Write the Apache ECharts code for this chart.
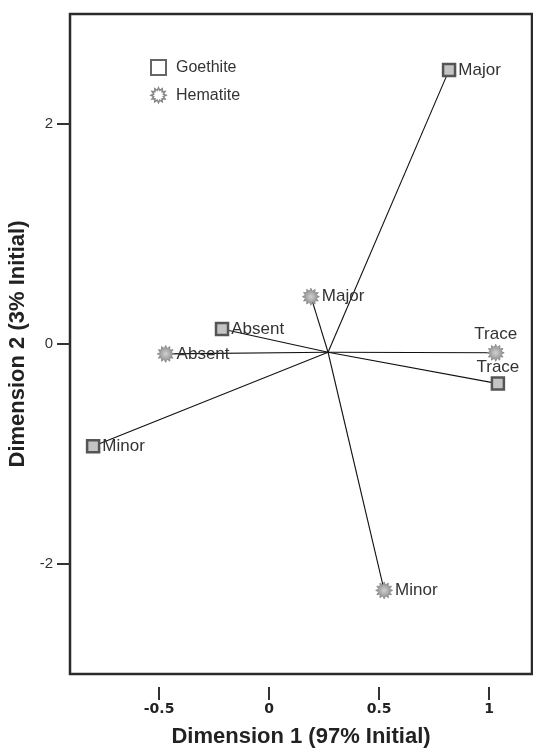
<!DOCTYPE html>
<html>
<head>
<meta charset="utf-8">
<script src="https://cdn.jsdelivr.net/npm/echarts@6/dist/echarts.min.js"></script>
<style>
html,body{margin:0;padding:0;background:#fff;overflow:hidden;}
#chart{width:533px;height:749px;}
</style>
</head>
<body>
<div id="chart"></div>
<script>
// ---- data ----
const categories = ['Major', 'Absent', 'Trace', 'Minor'];
const goethiteDim1 = [0.818, -0.214, 1.04, -0.80];
const goethiteDim2 = [2.49, 0.136, -0.36, -0.93];
const hematiteDim1 = [0.19, -0.47, 1.03, 0.523];
const hematiteDim2 = [0.43, -0.09, -0.08, -2.24];
const centroid = [0.268, -0.075];
const xTicks = [-0.5, 0, 0.5, 1];
const yTicks = [-2, 0, 2];

// gear/star symbol
function starPath(n, rIn) {
  let d = '';
  for (let i = 0; i < n * 2; i++) {
    const a = i * Math.PI / n - Math.PI / 2;
    const r = i % 2 === 0 ? 1 : rIn;
    d += (i === 0 ? 'M' : 'L') + (50 + 50 * r * Math.cos(a)).toFixed(2) + ' ' + (50 + 50 * r * Math.sin(a)).toFixed(2) + ' ';
  }
  return 'path://' + d + 'Z';
}
const STAR = starPath(12, 0.66);

function mkData(xs, ys) {
  return categories.map((c, i) => ({
    name: c,
    value: [xs[i], ys[i]],
    label: c === 'Trace' ? { position: 'top', distance: 1 } : { position: 'right', distance: 2 }
  }));
}
const lineData = [];
categories.forEach((c, i) => {
  lineData.push({ coords: [centroid, [goethiteDim1[i], goethiteDim2[i]]] });
  lineData.push({ coords: [centroid, [hematiteDim1[i], hematiteDim2[i]]] });
});

const labelStyle = {
  show: true,
  formatter: p => p.name,
  fontFamily: 'Liberation Sans, Arial, sans-serif',
  fontSize: 17,
  color: '#333'
};

const chart = echarts.init(document.getElementById('chart'));
chart.setOption({
  animation: false,
  backgroundColor: '#fff',
  grid: {
    left: 70, right: 1, top: 14, bottom: 75,
    outerBoundsMode: 'none', containLabel: false,
    show: true, borderColor: '#2b2b2b', borderWidth: 2.5
  },
  legend: {
    orient: 'vertical', left: 145, top: 54,
    itemWidth: 15, itemHeight: 15, itemGap: 11,
    textStyle: { fontFamily: 'Liberation Sans, Arial, sans-serif', fontSize: 16, color: '#333', padding: [0, 0, 0, 5] },
    data: [
      { name: 'Goethite', icon: 'rect', itemStyle: { color: '#fff', borderColor: '#666', borderWidth: 2 } },
      { name: 'Hematite', icon: STAR, itemStyle: { color: '#fff', borderColor: '#888', borderWidth: 1.5 } }
    ]
  },
  xAxis: {
    type: 'value', min: -0.905, max: 1.195, position: 'bottom', offset: 13,
    axisLine: { show: false, onZero: false },
    splitLine: { show: false },
    axisTick: { show: true, length: 13, customValues: xTicks, lineStyle: { color: '#333', width: 2 } },
    axisLabel: {
      customValues: xTicks, margin: 15, formatter: v => String(v),
      fontFamily: 'DejaVu Sans, sans-serif', fontWeight: 'bold', fontSize: 14, color: '#222'
    },
    name: 'Dimension 1 (97% Initial)', nameLocation: 'middle', nameGap: 39,
    nameTextStyle: { fontFamily: 'Liberation Sans, Arial, sans-serif', fontWeight: 'bold', fontSize: 22, color: '#222' }
  },
  yAxis: {
    type: 'value', min: -3, max: 3,
    axisLine: { show: false, onZero: false },
    splitLine: { show: false },
    axisTick: { show: true, length: 13, customValues: yTicks, lineStyle: { color: '#333', width: 2 } },
    axisLabel: {
      customValues: yTicks, margin: 17,
      fontFamily: 'Liberation Sans, Arial, sans-serif', fontSize: 15, color: '#333'
    },
    name: 'Dimension 2 (3% Initial)', nameLocation: 'middle', nameGap: 35, nameRotate: 90,
    nameTextStyle: { fontFamily: 'Liberation Sans, Arial, sans-serif', fontWeight: 'bold', fontSize: 22, color: '#222' }
  },
  series: [
    {
      type: 'lines', coordinateSystem: 'cartesian2d', silent: true, z: 1,
      lineStyle: { color: '#111', width: 1.1, opacity: 1 },
      data: lineData
    },
    {
      name: 'Goethite', type: 'scatter', symbol: 'rect', symbolSize: 12, z: 3,
      itemStyle: { color: '#c4c4c4', borderColor: '#555', borderWidth: 2.5, opacity: 1 },
      label: labelStyle,
      data: mkData(goethiteDim1, goethiteDim2)
    },
    {
      name: 'Hematite', type: 'scatter', symbol: STAR, symbolSize: 17, z: 3,
      itemStyle: {
        color: { type: 'radial', x: 0.5, y: 0.5, r: 0.5, colorStops: [{ offset: 0, color: '#d0d0d0' }, { offset: 0.5, color: '#aaa' }, { offset: 1, color: '#888' }] },
        borderColor: '#888', borderWidth: 0.8, opacity: 1
      },
      label: labelStyle,
      data: mkData(hematiteDim1, hematiteDim2)
    }
  ]
});
</script>
</body>
</html>
